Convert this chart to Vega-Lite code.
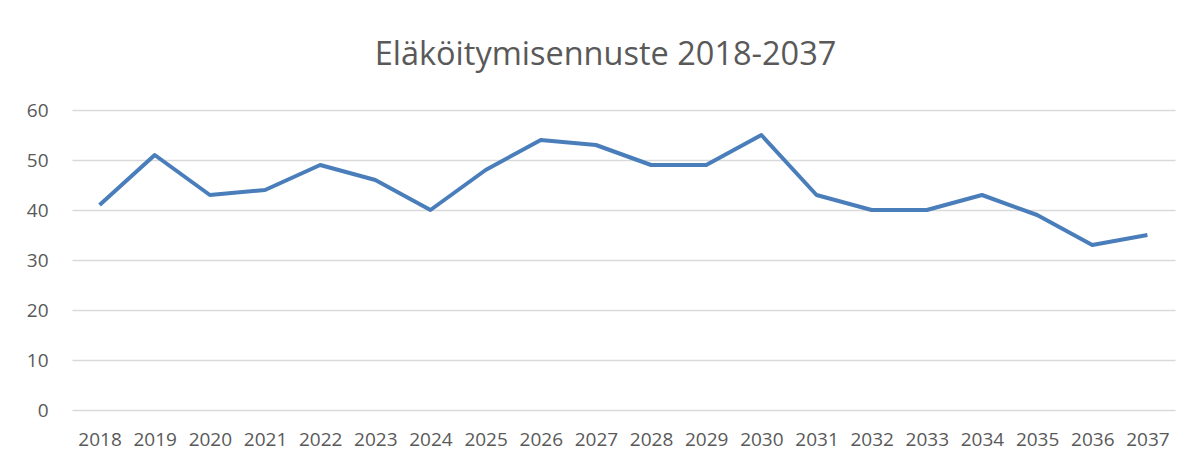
{
  "$schema": "https://vega.github.io/schema/vega-lite/v6.json",
  "autosize": {"type": "none"},
  "width": 1103,
  "height": 300,
  "padding": {"left": 72, "top": 110, "right": 23, "bottom": 55},
  "background": "white",
  "title": {
    "text": "Eläköitymisennuste 2018-2037",
    "font": "Open Sans",
    "fontSize": 32.5,
    "fontWeight": "normal",
    "color": "#595959",
    "anchor": "middle",
    "dx": -18,
    "offset": 30
  },
  "data": {
    "values": [
      {"year": "2018", "value": 41},
      {"year": "2019", "value": 51},
      {"year": "2020", "value": 43},
      {"year": "2021", "value": 44},
      {"year": "2022", "value": 49},
      {"year": "2023", "value": 46},
      {"year": "2024", "value": 40},
      {"year": "2025", "value": 48},
      {"year": "2026", "value": 54},
      {"year": "2027", "value": 53},
      {"year": "2028", "value": 49},
      {"year": "2029", "value": 49},
      {"year": "2030", "value": 55},
      {"year": "2031", "value": 43},
      {"year": "2032", "value": 40},
      {"year": "2033", "value": 40},
      {"year": "2034", "value": 43},
      {"year": "2035", "value": 39},
      {"year": "2036", "value": 33},
      {"year": "2037", "value": 35}
    ]
  },
  "mark": {"type": "line", "color": "#4a7ebb", "strokeWidth": 4, "strokeJoin": "round"},
  "encoding": {
    "x": {
      "field": "year",
      "type": "ordinal",
      "scale": {"type": "point", "padding": 0.5},
      "axis": {
        "title": null,
        "labelAngle": 0,
        "domain": false,
        "ticks": false,
        "labelPadding": 20,
        "labelFont": "Open Sans",
        "labelFontSize": 19,
        "labelColor": "#595959"
      }
    },
    "y": {
      "field": "value",
      "type": "quantitative",
      "scale": {"domain": [0, 60]},
      "axis": {
        "title": null,
        "values": [0, 10, 20, 30, 40, 50, 60],
        "domain": false,
        "ticks": false,
        "labelPadding": 24,
        "labelFont": "Open Sans",
        "labelFontSize": 19,
        "labelColor": "#595959",
        "gridColor": "#d9d9d9",
        "gridWidth": 1.5
      }
    }
  },
  "config": {"view": {"stroke": null}}
}
